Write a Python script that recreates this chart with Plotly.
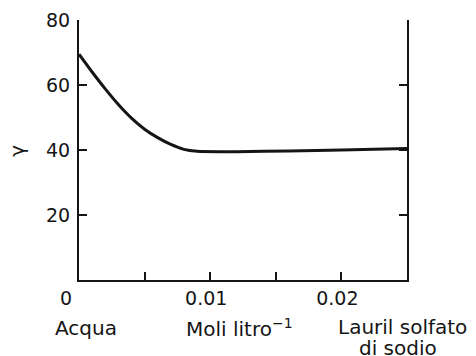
import plotly.graph_objects as go

# Data
conc = [0, 0.001, 0.002, 0.003, 0.004, 0.005, 0.006, 0.007, 0.008, 0.009,
        0.012, 0.016, 0.020, 0.025]
gamma = [69.5, 64.0, 58.8, 54.0, 49.8, 46.4, 43.8, 41.7, 40.2, 39.6,
         39.5, 39.7, 40.0, 40.5]

x_tickvals = [0, 0.005, 0.01, 0.015, 0.02, 0.025]
x_ticktext = ["0\u00a0\u00a0\u00a0", "", "0.01", "", "0.02", ""]
y_tickvals = [20, 40, 60, 80]
y_ticktext = ["20", "40", "60", "80"]

FONT = "DejaVu Sans"
INK = "#151515"

fig = go.Figure()
fig.add_trace(go.Scatter(x=conc, y=gamma, mode="lines",
                         line=dict(color=INK, width=3, shape="spline", smoothing=0.8),
                         hoverinfo="skip", showlegend=False))
fig.add_trace(go.Scatter(x=conc, y=gamma, mode="lines", yaxis="y2",
                         line=dict(color="rgba(0,0,0,0)", width=0),
                         hoverinfo="skip", showlegend=False))

tick_font = dict(family=FONT, size=19, color=INK)
# page body has an 8px margin, so the figure is shrunk and offset accordingly
fig.update_layout(
    width=468, height=348,
    margin=dict(l=71, r=69, t=12, b=76, autoexpand=False),
    paper_bgcolor="white", plot_bgcolor="white",
    font=dict(family=FONT, size=19, color=INK),
    xaxis=dict(range=[0, 0.025], tickvals=x_tickvals, ticktext=x_ticktext,
               showgrid=False, zeroline=False, showline=True, linecolor=INK,
               linewidth=2, ticks="inside", ticklen=8, tickwidth=1.5, tickcolor=INK,
               ticklabelshift=-4, tickfont=tick_font, automargin=False),
    yaxis=dict(range=[0, 80], tickvals=y_tickvals, ticktext=y_ticktext,
               showgrid=False, zeroline=False, showline=True, linecolor=INK,
               linewidth=2, ticks="inside", ticklen=8, tickwidth=1.5, tickcolor=INK,
               ticklabelstandoff=3, tickfont=tick_font, automargin=False),
    yaxis2=dict(range=[0, 80], overlaying="y", side="right", anchor="x",
                tickvals=y_tickvals, showticklabels=False, automargin=False,
                showgrid=False, zeroline=False, showline=True, linecolor=INK,
                linewidth=2, ticks="inside", ticklen=8, tickwidth=1.5, tickcolor=INK),
)

ann_font = dict(family=FONT, size=20, color=INK)
def label(x, py, text, xref="x", **kw):
    fig.add_annotation(x=x, y=(280 - py) / 260, xref=xref, yref="paper", text=text,
                       showarrow=False, xanchor="center", yanchor="middle",
                       font=ann_font, **kw)

label(0.00053, 328, "Acqua")
label(0.01227, 328, "Moli litro<sup>−1</sup>")
label(0.02462, 327, "Lauril solfato")
label(0.02430, 348, "di sodio")
label(-0.19, 151, "γ", xref="paper", textangle=-90)

fig.write_html("out.html")
